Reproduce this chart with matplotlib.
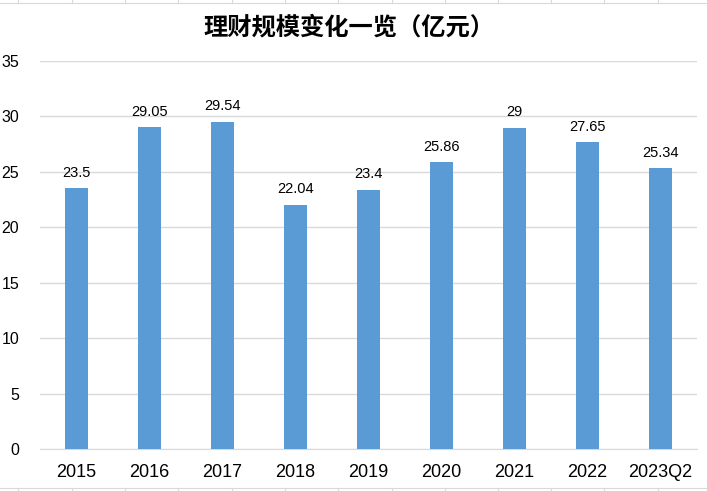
import matplotlib
matplotlib.use("Agg")
import matplotlib.pyplot as plt
from matplotlib.lines import Line2D

categories = ["2015", "2016", "2017", "2018", "2019", "2020", "2021", "2022", "2023Q2"]
values = [23.5, 29.05, 29.54, 22.04, 23.4, 25.86, 29, 27.65, 25.34]
value_labels = ["23.5", "29.05", "29.54", "22.04", "23.4", "25.86", "29", "27.65", "25.34"]
yticks = [0, 5, 10, 15, 20, 25, 30, 35]
title = "理财规模变化一览（亿元）"

W, H = 707, 491
fig = plt.figure(figsize=(W / 100, H / 100), dpi=100)
fig.patch.set_facecolor("white")

# faint spreadsheet cell borders
for xp in [18, 72, 125, 178, 232, 285, 338, 392, 445, 498, 551, 604, 658]:
    fig.add_artist(Line2D([xp / W, xp / W], [1 - 3 / H, 1.0], color="#d9d9d9", lw=0.8))
    fig.add_artist(Line2D([xp / W, xp / W], [0.0, 3 / H], color="#d9d9d9", lw=0.8))
fig.add_artist(Line2D([0, 1], [1 - 3 / H, 1 - 3 / H], color="#d9d9d9", lw=0.8))
fig.add_artist(Line2D([0, 1], [3 / H, 3 / H], color="#d9d9d9", lw=0.8))

ax = fig.add_axes([40 / W, 1 - 449 / H, (697 - 40) / W, (449 - 61) / H])
x = list(range(len(categories)))
ax.bar(x, values, width=0.31, color="#5B9BD5", zorder=3)
ax.set_xlim(-0.5, len(categories) - 0.5)
ax.set_ylim(0, 35)
ax.set_yticks(yticks)
ax.grid(axis="y", color="#d9d9d9", lw=1, zorder=0)
for s in ["top", "right", "left"]:
    ax.spines[s].set_visible(False)
ax.spines["bottom"].set_color("#d9d9d9")
ax.tick_params(axis="both", length=0)
ax.tick_params(axis="y", pad=15)
ax.tick_params(axis="x", pad=11)
ax.set_xticks(x)
ax.set_xticklabels(categories, family="Liberation Sans", fontsize=13)
for lab in ax.get_yticklabels():
    lab.set_family("Liberation Sans")
    lab.set_fontsize(11.5)

for xi, v, lab in zip(x, values, value_labels):
    ax.annotate(lab, (xi, v), xytext=(0, 6), textcoords="offset points",
                ha="center", va="bottom", fontsize=10.5, family="Liberation Sans")

fig.text(349 / W, 1 - 27 / H, title, ha="center", va="center", fontsize=17.5,
         family=["Noto Sans CJK SC", "DejaVu Sans"], fontweight="bold")

fig.savefig("out.png", dpi=100, facecolor="white")
